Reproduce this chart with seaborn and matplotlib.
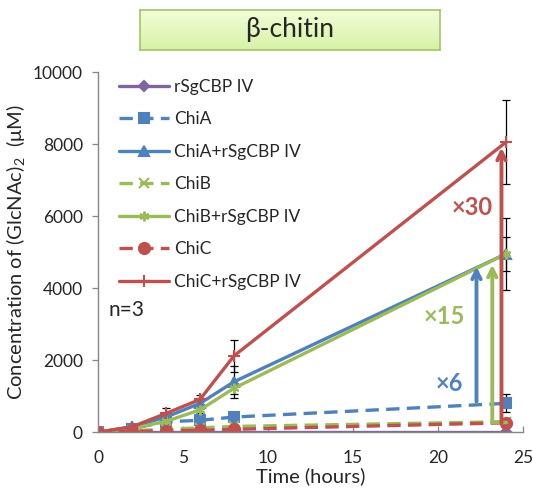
import numpy as np
import pandas as pd
import matplotlib
matplotlib.use("Agg")
import matplotlib.pyplot as plt
import seaborn as sns

# Data
time_h = [0, 2, 4, 6, 8, 24]
series_names = ["rSgCBP IV", "ChiA", "ChiA+rSgCBP IV", "ChiB",
                "ChiB+rSgCBP IV", "ChiC", "ChiC+rSgCBP IV"]
rsgcbp = [0, 0, 0, 0, 0, 0]
chia = [0, 100, 290, 330, 420, 800]
chia_cbp = [0, 150, 420, 800, 1400, 4950]
chib = [0, 40, 80, 120, 160, 290]
chib_cbp = [0, 100, 300, 620, 1220, 4950]
chic = [0, 20, 40, 50, 80, 260]
chic_cbp = [0, 150, 520, 910, 2120, 8050]

err_rsgcbp = [0, 0, 0, 0, 0, 0]
err_chia = [0, 20, 40, 50, 60, 250]
err_chia_cbp = [0, 60, 120, 150, 450, 1000]
err_chib = [0, 10, 20, 20, 30, 40]
err_chib_cbp = [0, 40, 80, 100, 150, 470]
err_chic = [0, 10, 10, 20, 20, 40]
err_chic_cbp = [0, 60, 150, 120, 450, 1170]

fold_labels = ["×6", "×15", "×30"]
fold_x = [20.7, 20.4, 22.0]
fold_y = [1360, 3200, 6250]
arrow_x = [22.27, 23.2, 23.74]
arrow_y0 = [850, 290, 260]
arrow_y1 = [4600, 4650, 7900]

values = [rsgcbp, chia, chia_cbp, chib, chib_cbp, chic, chic_cbp]
errors = [err_rsgcbp, err_chia, err_chia_cbp, err_chib, err_chib_cbp, err_chic, err_chic_cbp]

BLUE = "#4F81BD"
RED = "#C0504D"
GREEN = "#9BBB59"
PURPLE = "#8064A2"
colors = [PURPLE, BLUE, BLUE, GREEN, GREEN, RED, RED]
fold_colors = [BLUE, GREEN, RED]
marker_list = ["D", "s", "^", "x", (6, 2, 0), "o", "+"]
marker_sizes = [5.5, 7, 7, 7, 7, 8, 9]
dashed = [False, True, False, True, False, True, False]

sns.set_style("white")
plt.rcParams["font.family"] = ["Lato", "DejaVu Sans"]
plt.rcParams["mathtext.default"] = "regular"

fig = plt.figure(figsize=(5.33, 4.9), dpi=100)
ax = fig.add_axes([0.184, 0.118, 0.797, 0.735])

for name, vals, c, m, ms, d in zip(series_names, values, colors, marker_list,
                                   marker_sizes, dashed):
    df = pd.DataFrame({"Time": time_h, "Conc": vals})
    ls = (0, (4, 2.2)) if d else "-"
    sns.lineplot(data=df, x="Time", y="Conc", color=c, marker=m,
                 linewidth=2.4, markersize=ms, markeredgewidth=1.5,
                 markeredgecolor=c, label=name, ax=ax, linestyle=ls)

for vals, errs in zip(values, errors):
    ax.errorbar(time_h, vals, yerr=errs, fmt="none", ecolor="black",
                elinewidth=0.9, capsize=3, capthick=0.9, zorder=1)

# fold-change arrows
for x, y0, y1, c in zip(arrow_x, arrow_y0, arrow_y1, fold_colors):
    ax.annotate("", xy=(x, y1), xytext=(x, y0),
                arrowprops=dict(arrowstyle="->,head_width=0.3,head_length=0.6",
                                color=c, lw=2.8, shrinkA=0, shrinkB=0))
ax.plot([arrow_x[1], 24], [arrow_y0[1], arrow_y0[1]], color=GREEN, lw=2.5)
for lab, x, y, c in zip(fold_labels, fold_x, fold_y, fold_colors):
    ax.text(x, y, lab, color=c, fontsize=17, fontweight="bold",
            ha="center", va="center")

ax.text(0.6, 3400, "n=3", fontsize=15, ha="left", va="center")

ax.set_xlim(0, 25)
ax.set_ylim(0, 10000)
ax.set_xticks(range(0, 26, 5))
ax.set_yticks(range(0, 10001, 2000))
ax.tick_params(axis="y", direction="out", length=4, width=0.9, color="#868686",
               labelsize=12.5, left=True, pad=7)
ax.tick_params(axis="x", direction="in", length=4, width=0.9, color="#868686",
               labelsize=12.5, bottom=True, pad=13)
for s in ["top", "right"]:
    ax.spines[s].set_visible(False)
for s in ["left", "bottom"]:
    ax.spines[s].set_color("#868686")
    ax.spines[s].set_linewidth(1.0)

ax.set_xlabel("Time (hours)", fontsize=14.5, labelpad=1)
ax.set_ylabel("Concentration of (GlcNAc)$_2$  (μM)", fontsize=14.5, labelpad=4)

ax.legend(loc="upper left", bbox_to_anchor=(0.025, 1.01), frameon=False,
          fontsize=12.5, labelspacing=0.95, handlelength=2.9,
          handletextpad=0.25, borderaxespad=0.2)

# title box with green gradient
grad_ax = fig.add_axes([140 / 533, 1 - 50 / 490, 300 / 533, 40 / 490])
grad = np.linspace(0, 1, 64).reshape(-1, 1)
cmap = matplotlib.colors.LinearSegmentedColormap.from_list("g", ["#F2FDD8", "#D6F2A6"])
grad_ax.imshow(grad, aspect="auto", cmap=cmap, extent=[0, 1, 0, 1], origin="upper")
grad_ax.set_xticks([])
grad_ax.set_yticks([])
for s in grad_ax.spines.values():
    s.set_color("#A5C46A")
    s.set_linewidth(1.2)
grad_ax.text(0.5, 0.5, "β-chitin", fontsize=19, ha="center", va="center",
             transform=grad_ax.transAxes)

fig.savefig("out.png", dpi=100)
